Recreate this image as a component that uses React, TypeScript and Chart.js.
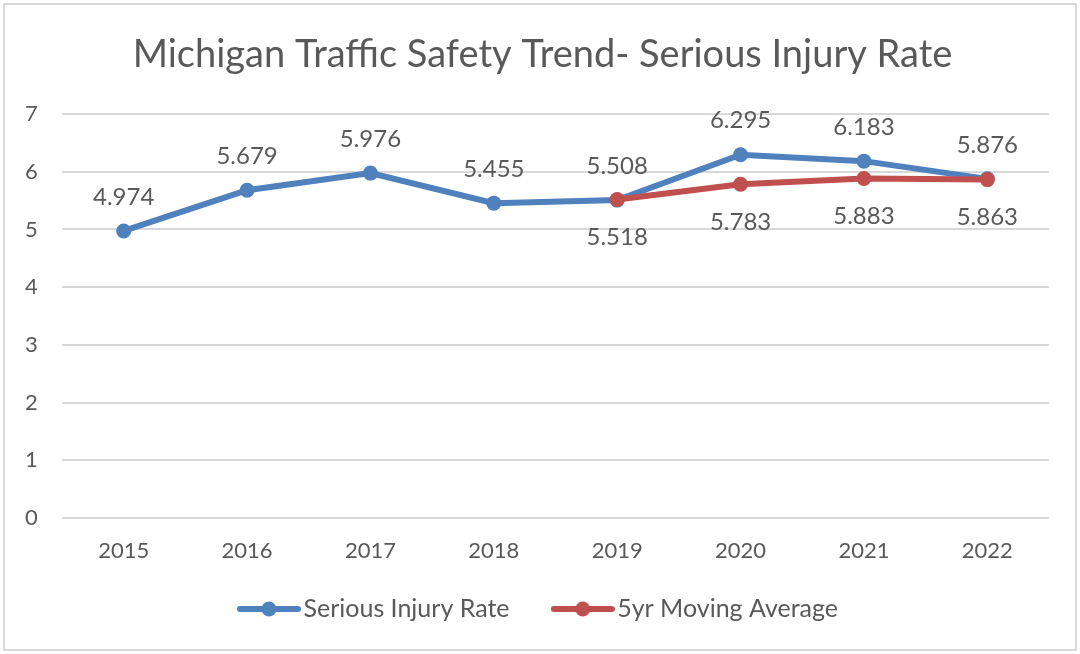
import React, { useEffect, useRef } from "react";
import { Chart, registerables } from "chart.js";

Chart.register(...registerables);

const categories = ["2015", "2016", "2017", "2018", "2019", "2020", "2021", "2022"];
const seriousInjuryRate = [4.974, 5.679, 5.976, 5.455, 5.508, 6.295, 6.183, 5.876];
const movingAverage = [null, null, null, null, 5.518, 5.783, 5.883, 5.863];
const yMin = 0;
const yMax = 7;
const yStep = 1;

const BLUE = "#4F81BD";
const RED = "#C0504D";
const TEXT = "#595959";
const FONT = "Lato, 'Open Sans', sans-serif";

function legendIcon(color: string): HTMLCanvasElement {
  const c = document.createElement("canvas");
  c.width = 64;
  c.height = 18;
  const ctx = c.getContext("2d")!;
  ctx.strokeStyle = color;
  ctx.lineWidth = 6;
  ctx.lineCap = "round";
  ctx.beginPath();
  ctx.moveTo(3, 9);
  ctx.lineTo(61, 9);
  ctx.stroke();
  ctx.fillStyle = color;
  ctx.beginPath();
  ctx.arc(32, 9, 7.5, 0, Math.PI * 2);
  ctx.fill();
  return c;
}

const borderPlugin = {
  id: "outerBorder",
  beforeDraw(chart: any) {
    const ctx = chart.ctx;
    ctx.save();
    ctx.fillStyle = "#ffffff";
    ctx.fillRect(0, 0, chart.width, chart.height);
    ctx.strokeStyle = "#d9d9d9";
    ctx.lineWidth = 2;
    ctx.strokeRect(4, 4, chart.width - 8, chart.height - 8);
    ctx.restore();
  },
};

const labelPlugin = {
  id: "valueLabels",
  afterDatasetsDraw(chart: any) {
    const ctx = chart.ctx;
    ctx.save();
    ctx.font = `24px ${FONT}`;
    ctx.fillStyle = TEXT;
    ctx.textAlign = "center";
    ctx.textBaseline = "middle";
    chart.data.datasets.forEach((ds: any, di: number) => {
      const meta = chart.getDatasetMeta(di);
      const off = di === 0 ? -34 : 38;
      meta.data.forEach((pt: any, i: number) => {
        const v = ds.data[i];
        if (v === null || v === undefined) return;
        ctx.fillText(Number(v).toFixed(3), pt.x, pt.y + off);
      });
    });
    ctx.restore();
  },
};

export default function App() {
  const ref = useRef<HTMLCanvasElement>(null);
  useEffect(() => {
    document.body.style.margin = "0";
    const icons = [legendIcon(BLUE), legendIcon(RED)];
    const chart = new Chart(ref.current!, {
      type: "line",
      data: {
        labels: categories,
        datasets: [
          {
            label: "Serious Injury Rate",
            data: seriousInjuryRate,
            borderColor: BLUE,
            backgroundColor: BLUE,
            borderWidth: 6,
            pointRadius: 7.5,
            pointBorderWidth: 0,
            pointBackgroundColor: BLUE,
            tension: 0,
            order: 1,
          },
          {
            label: "5yr Moving Average",
            data: movingAverage,
            borderColor: RED,
            backgroundColor: RED,
            borderWidth: 6,
            pointRadius: 7.5,
            pointBorderWidth: 0,
            pointBackgroundColor: RED,
            tension: 0,
            order: 0,
          },
        ],
      },
      options: {
        responsive: false,
        animation: false,
        layout: { padding: { left: 36, right: 31, top: 0, bottom: 22.5 } },
        plugins: {
          title: {
            display: true,
            text: "Michigan Traffic Safety Trend- Serious Injury Rate",
            color: TEXT,
            font: { family: FONT, size: 38, weight: "normal" },
            padding: { top: 32, bottom: 36.4 },
          },
          legend: {
            position: "bottom",
            labels: {
              color: TEXT,
              font: { family: FONT, size: 25 },
              usePointStyle: true,
              pointStyleWidth: 44,
              padding: 32,
              generateLabels: (chart: any) =>
                chart.data.datasets.map((ds: any, i: number) => ({
                  text: i === 0 ? ds.label + "   " : ds.label,
                  fillStyle: ds.borderColor,
                  strokeStyle: ds.borderColor,
                  lineWidth: 0,
                  pointStyle: icons[i],
                  hidden: false,
                  datasetIndex: i,
                  fontColor: TEXT,
                })),
            },
          },
          tooltip: { enabled: false },
        },
        scales: {
          x: {
            offset: true,
            grid: { display: false, drawTicks: false },
            border: { display: false },
            ticks: { color: TEXT, font: { family: FONT, size: 22 }, padding: 20 },
            afterFit: (scale: any) => {
              scale.height = 46.5;
            },
          },
          y: {
            min: yMin,
            max: yMax,
            grid: { color: "#d9d9d9", lineWidth: 2, drawTicks: false },
            border: { display: false },
            ticks: {
              stepSize: yStep,
              color: TEXT,
              font: { family: FONT, size: 22 },
              mirror: true,
              padding: -37,
            },
            afterFit: (scale: any) => {
              scale.width = 26;
            },
          },
        },
      },
      plugins: [borderPlugin, labelPlugin],
    });
    return () => chart.destroy();
  }, []);
  return (
    <div style={{ position: "absolute", left: 0, top: 0, width: 1080, height: 654 }}>
      <canvas ref={ref} width={1080} height={654} style={{ width: 1080, height: 654 }} />
    </div>
  );
}
